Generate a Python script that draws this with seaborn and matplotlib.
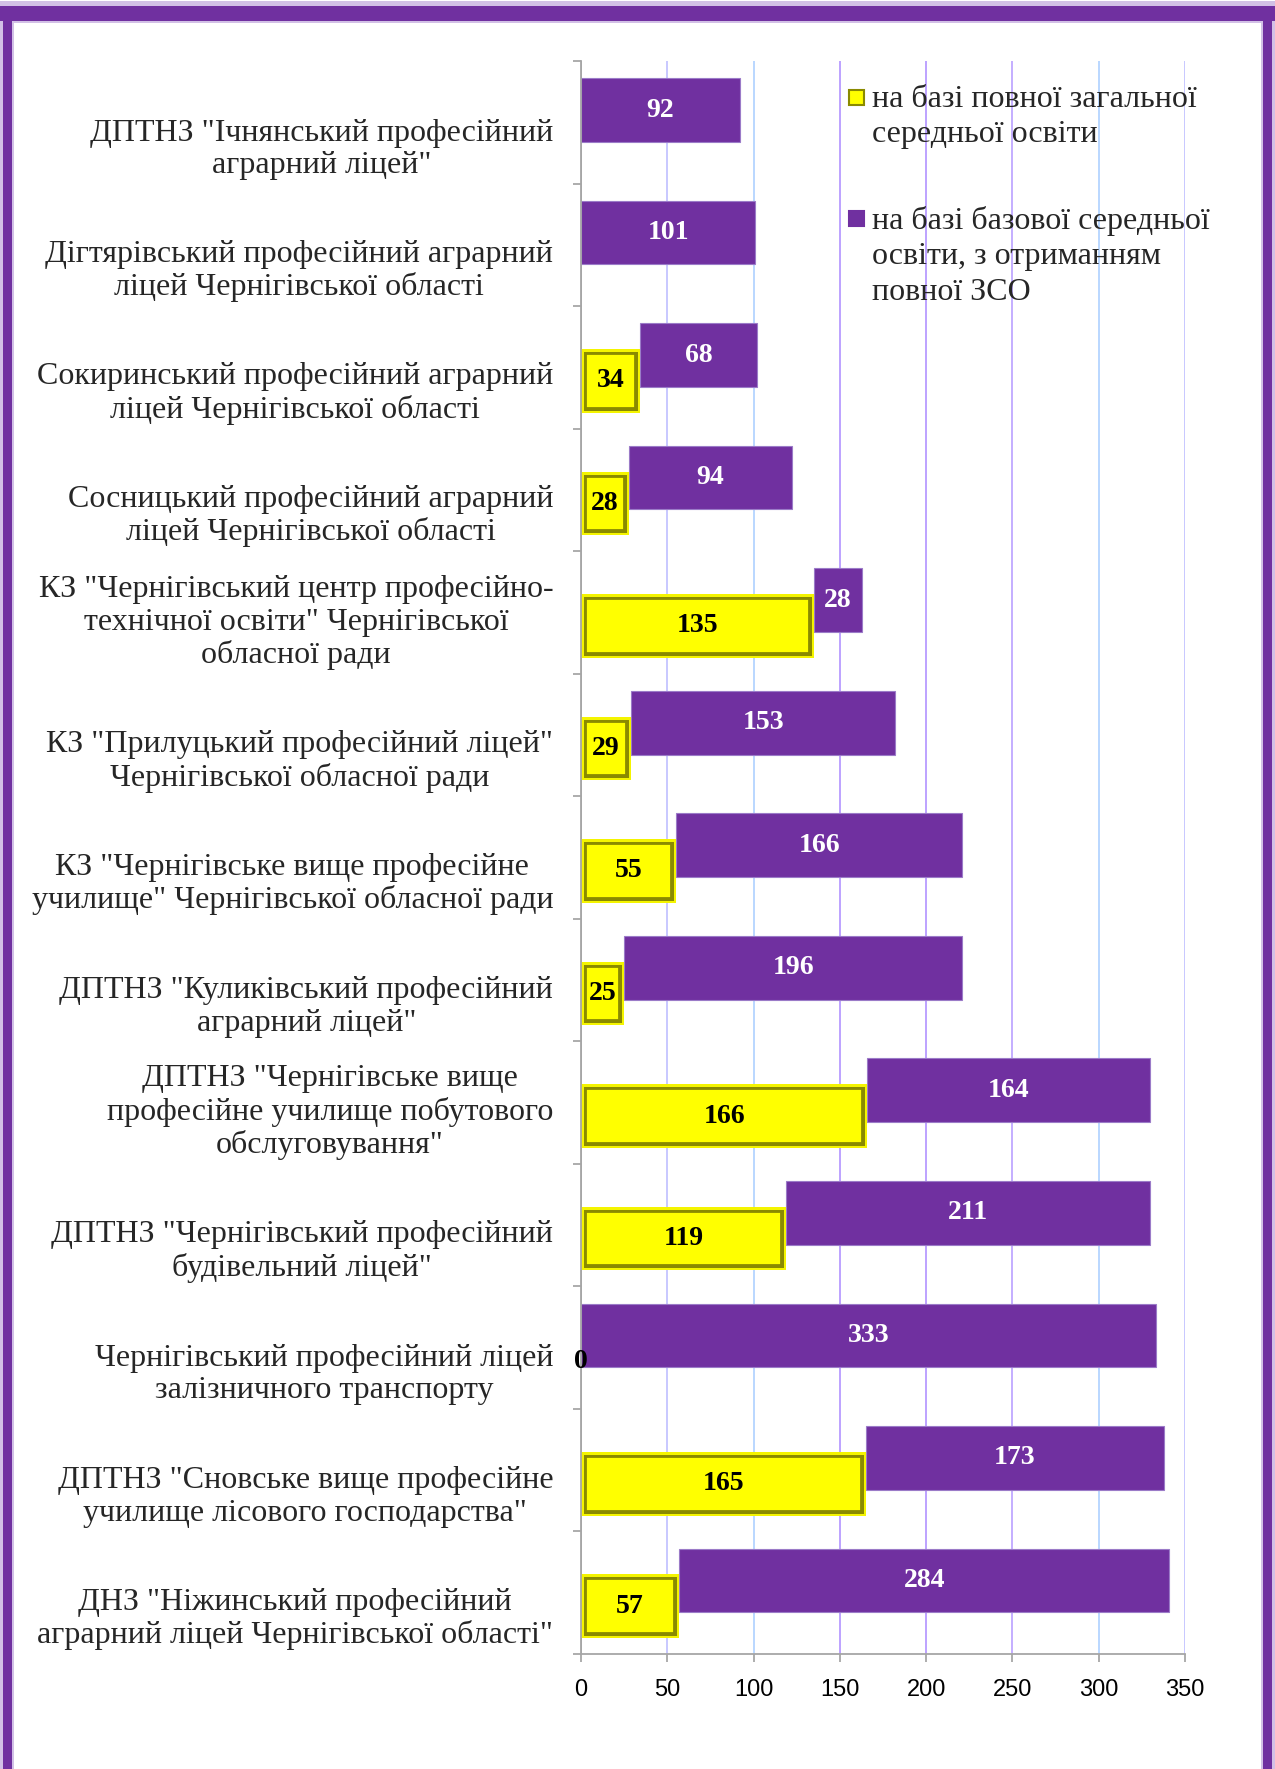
import numpy as np
import pandas as pd
import matplotlib
matplotlib.use("Agg")
import matplotlib.pyplot as plt
import matplotlib.patheffects as pe
import seaborn as sns
from matplotlib.patches import Rectangle

# ---------------- data ----------------
categories = [
    'ДПТНЗ "Ічнянський професійний\nаграрний ліцей"',
    'Дігтярівський професійний аграрний\nліцей Чернігівської області',
    'Сокиринський професійний аграрний\nліцей Чернігівської області',
    'Сосницький професійний аграрний\nліцей Чернігівської області',
    'КЗ "Чернігівський центр професійно-\nтехнічної освіти" Чернігівської\nобласної ради',
    'КЗ "Прилуцький професійний ліцей"\nЧернігівської обласної ради',
    'КЗ "Чернігівське вище професійне\nучилище" Чернігівської обласної ради',
    'ДПТНЗ "Куликівський професійний\nаграрний ліцей"',
    'ДПТНЗ "Чернігівське вище\nпрофесійне училище побутового\nобслуговування"',
    'ДПТНЗ "Чернігівський професійний\nбудівельний ліцей"',
    'Чернігівський професійний ліцей\nзалізничного транспорту',
    'ДПТНЗ "Сновське вище професійне\nучилище лісового господарства"',
    'ДНЗ "Ніжинський професійний\nаграрний ліцей Чернігівської області"',
]
full_general = [None, None, 34, 28, 135, 29, 55, 25, 166, 119, 0, 165, 57]
basic_with_zso = [92, 101, 68, 94, 28, 153, 166, 196, 164, 211, 333, 173, 284]
series_names = [
    "на базі повної загальної\nсередньої освіти",
    "на базі базової середньої\nосвіти, з отриманням\nповної ЗСО",
]
x_ticks = [0, 50, 100, 150, 200, 250, 300, 350]

# ---------------- style ----------------
YELLOW = "#FFFF00"
YELLOW_EDGE = "#8A8A00"
PURPLE = "#7030A0"
SERIF = ["Liberation Serif", "DejaVu Serif"]

sns.set_theme(style="white")
plt.rcParams["font.family"] = SERIF

W, H = 1275, 1769
fig = plt.figure(figsize=(W / 100, H / 100), dpi=100)
fig.patch.set_facecolor("white")

def fx(px):
    return px / W

def fy(py):
    return 1 - py / H

ax = fig.add_axes([581 / W, (H - 1654) / H, (1185 - 581) / W, (1654 - 61) / H])

df = pd.DataFrame({
    "label": categories,
    "yellow": pd.Series(full_general, dtype="float").fillna(0),
    "purple": basic_with_zso,
})
n = len(df)

# purple (stacked after yellow, shifted up)
sns.barplot(data=df, y="label", x="purple", orient="h", color=PURPLE,
            saturation=1, width=0.52, errorbar=None, ax=ax,
            edgecolor="#9B7BC8", linewidth=0.8)
purple_patches = list(ax.patches)
for p, start in zip(purple_patches, df["yellow"]):
    p.set_x(start)
    p.set_y(p.get_y() - 0.10)
    p.set_zorder(3)

# yellow (shifted down), with an inset bevel line
sns.barplot(data=df, y="label", x="yellow", orient="h", color=YELLOW,
            saturation=1, width=0.52, errorbar=None, ax=ax,
            edgecolor="none", linewidth=0)
yellow_patches = list(ax.patches)[len(purple_patches):]
bevel = [
    pe.Normal(),
    pe.PathPatchEffect(facecolor="none", edgecolor=YELLOW_EDGE, linewidth=8.5),
    pe.PathPatchEffect(facecolor="none", edgecolor="#F4F400", linewidth=3.6),
]
for p in yellow_patches:
    p.set_y(p.get_y() + 0.11)
    p.set_zorder(4)
    p.set_clip_path(p)
    p.set_path_effects(bevel)
    if p.get_width() == 0:
        p.set_visible(False)

# value labels
for p, v in zip(purple_patches, basic_with_zso):
    ax.text(p.get_x() + p.get_width() / 2, p.get_y() + p.get_height() / 2,
            f"{v}", ha="center", va="center", color="white",
            fontsize=20, fontweight="bold", family=SERIF, zorder=6)
for p, v in zip(yellow_patches, full_general):
    if v is None:
        continue
    ax.text(p.get_x() + p.get_width() / 2, p.get_y() + p.get_height() / 2,
            f"{v}", ha="center", va="center", color="black",
            fontsize=20, fontweight="bold", family=SERIF, zorder=6)

# axes
ax.set_xlim(0, 350)
ax.set_ylim(n - 0.5, -0.5)
ax.set_xlabel("")
ax.set_ylabel("")
ax.set_xticks(x_ticks)
ax.set_xticklabels([str(t) for t in x_ticks], fontsize=17,
                   family=["Liberation Sans", "DejaVu Sans"])
ax.set_yticks(np.arange(n) + 0.47)
ax.set_yticklabels(categories, fontsize=23, family=SERIF)
for lab in ax.get_yticklabels():
    lab.set_multialignment("center")
    lab.set_verticalalignment("bottom")
    lab.set_linespacing(1.15)
ax.set_yticks(np.arange(n + 1) - 0.5, minor=True)
ax.tick_params(axis="y", which="major", length=0, pad=20)
ax.tick_params(axis="y", which="minor", length=6, width=1.2,
               color="#A0A0A0", direction="out", left=True)
ax.tick_params(axis="x", which="major", length=6, width=1.2,
               color="#A0A0A0", direction="out", bottom=True, pad=12,
               labelcolor="black")
for side in ["top", "right"]:
    ax.spines[side].set_visible(False)
for side in ["left", "bottom"]:
    ax.spines[side].set_visible(True)
    ax.spines[side].set_color("#A6A6A6")
    ax.spines[side].set_linewidth(1.3)
    ax.spines[side].set_zorder(5)

ax.set_axisbelow(True)
ax.xaxis.grid(True, linewidth=1.3)
ax.yaxis.grid(False)
grid_colors = ["#A6A6A6", "#C4C4FF", "#B4D4FF", "#B79BFF",
               "#B79BFF", "#BFA8FF", "#B4D4FF", "#C4C4FF"]
for line, c in zip(ax.get_xgridlines(), grid_colors):
    line.set_color(c)

# legend (manual, marker aligned with first text line)
leg_items = [
    (YELLOW, YELLOW_EDGE, 90, series_names[0]),
    (PURPLE, PURPLE, 211, series_names[1]),
]
for face, edge, top, txt in leg_items:
    fig.add_artist(Rectangle((fx(849), fy(top + 15)), 15 / W, 15 / H,
                             transform=fig.transFigure, facecolor=face,
                             edgecolor=edge, linewidth=1.5))
    fig.text(fx(872), fy(top - 5), txt, ha="left", va="top", fontsize=23,
             family=SERIF, linespacing=1.29)

# purple frame with soft shadow
shadow = "#D2C0E6"
frame = "#7030A0"
for (x0, y0, x1, y1, c) in [
    (0, 1, W, 23, shadow), (0, 1, 14, H, shadow), (W - 14, 1, W, H, shadow),
    (0, 6, W, 21, frame), (3, 6, 12, H, frame), (W - 12, 6, W - 3, H, frame),
]:
    fig.add_artist(Rectangle((fx(x0), fy(y1)), (x1 - x0) / W, (y1 - y0) / H,
                             transform=fig.transFigure, facecolor=c,
                             edgecolor="none", zorder=10))

fig.savefig("out.png", dpi=100, facecolor="white")
